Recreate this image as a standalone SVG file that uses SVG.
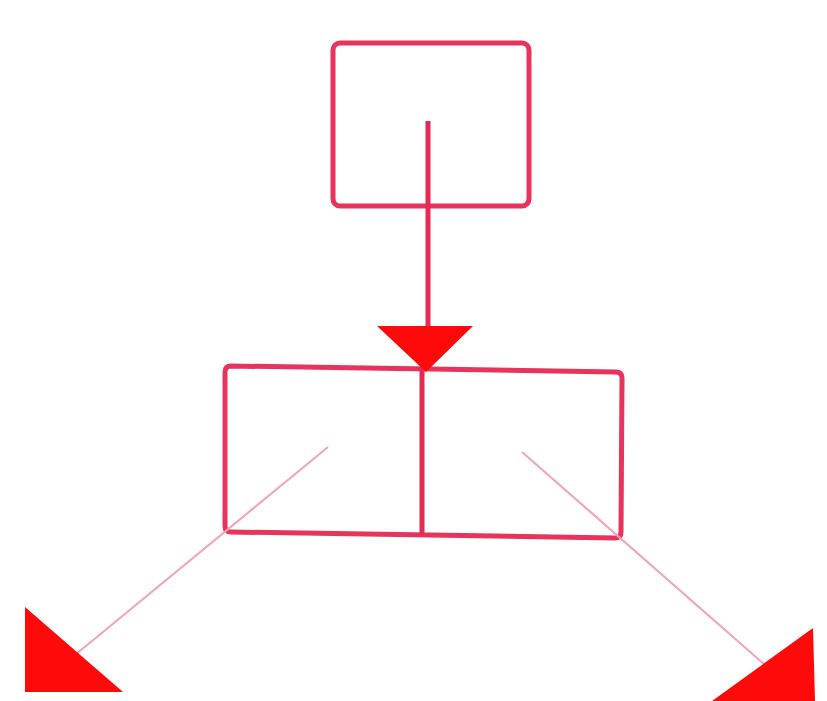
<svg xmlns="http://www.w3.org/2000/svg" width="827" height="701" viewBox="0 0 827 701">
<style>
.box{fill:none;stroke:#e8335c;stroke-width:5;stroke-linejoin:round}
.stem{fill:none;stroke:#e62a55;stroke-width:5}
.thin{fill:none;stroke:#f2a6b8;stroke-width:2.2}
.head{fill:#ff0a0a;stroke:none}
</style>
<rect width="827" height="701" fill="#ffffff"/>
<g id="top-box">
<rect class="box" x="333" y="43" width="196" height="163" rx="7"/>
</g>
<g id="bottom-box">
<path class="box" d="M231 366 L616 372 Q622 372 622 378 L621 532 Q621 538 615 538 L231 532 Q225 532 225 526 L225 372 Q225 366 231 366 Z"/>
<line class="stem" x1="422" y1="366" x2="422" y2="535"/>
</g>
<g id="connectors">
<line class="stem" x1="428" y1="121" x2="428" y2="340"/>
<polygon class="head" points="377,326 473,326 426,372"/>
<line class="thin" x1="328" y1="447" x2="75" y2="655"/>
<polygon class="head" points="25,607 25,692 123,692"/>
<line class="thin" x1="522" y1="452" x2="765" y2="665"/>
<polygon class="head" points="813,628 815,701 712,701"/>
</g>
</svg>
